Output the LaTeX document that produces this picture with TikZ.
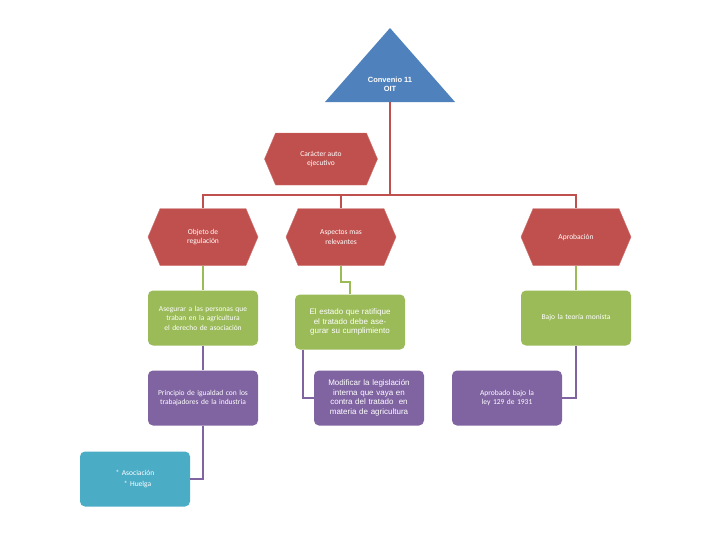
\documentclass[tikz,border=0pt]{standalone}
\usepackage{fontspec}
\setmainfont{Carlito}
\newfontfamily\arialf{Liberation Sans}
\usetikzlibrary{shapes.symbols}
\definecolor{rojo}{HTML}{C0504D}
\definecolor{verde}{HTML}{9BBB59}
\definecolor{morado}{HTML}{8064A2}
\definecolor{celeste}{HTML}{4BACC6}
\definecolor{azul}{HTML}{4F81BD}
\begin{document}
\begin{tikzpicture}[x=1pt,y=-1pt,
  hexa/.style={signal, signal to=west and east, signal pointer angle=134, fill=rojo, draw=rojo!80!white, text=white,
    minimum width=110pt, minimum height=57pt, inner sep=1pt, align=center, font=\fontsize{7.5}{9.5}\selectfont},
  caja/.style={rounded corners=5pt, text=white, minimum width=110pt, minimum height=55pt, align=center,
    text width=106pt, inner sep=1pt, font=\fontsize{7.5}{9.5}\selectfont},
  lrojo/.style={draw=rojo, line width=1.2pt},
  lverde/.style={draw=verde, line width=1.2pt},
  lmorado/.style={draw=morado, line width=1.2pt}]
\useasboundingbox (0,0) rectangle (728,546);
% cabecera
\fill[azul] (390,28) -- (455,102) -- (325,102) -- cycle;
\node[text=white, font=\bfseries\fontsize{7.5}{9}\selectfont\arialf, align=center] (oit) at (390,84) {Convenio 11\\OIT};
\coordinate (oitb) at (390,102);
\node[hexa, minimum width=113pt, minimum height=52pt] (auto) at (321,159) {Carácter auto\\ejecutivo};
% nivel rojo
\node[hexa] (obj) at (203,237) {Objeto de\\regulación};
\node[hexa] (asp) at (341,237) {Aspectos mas\\relevantes};
\node[hexa] (apr) at (576,237) {Aprobación};
% nivel verde
\node[caja, fill=verde] (g1) at (203,318) {Asegurar a las personas que traban en la agricultura el derecho de asociación};
\node[caja, fill=verde, font=\fontsize{8}{9.5}\selectfont\arialf, text width=100pt] (g2) at (350,322) {El estado que ratifique el tratado debe asegurar su cumplimiento};
\node[caja, fill=verde] (g3) at (576,318) {Bajo la teoría monista};
% nivel morado
\node[caja, fill=morado] (m1) at (203,398) {Principio de igualdad con los trabajadores de la industria};
\node[caja, fill=morado, font=\fontsize{8}{9.5}\selectfont\arialf, text width=100pt] (m2) at (369,398) {Modificar la legislación interna que vaya en contra del tratado\ \ en materia de agricultura};
\node[caja, fill=morado] (m3) at (507,398) {Aprobado bajo la ley 129 de 1931};
\node[caja, fill=celeste] (c1) at (135,479) {* Asociación\\[2pt]\ \ * Huelga};
% conectores
\draw[lrojo] (oitb) -- (390,195) -| (obj.north);
\draw[lrojo] (390,195) -| (asp.north);
\draw[lrojo] (390,195) -| (apr.north);
\draw[lverde] (obj.south) -- (g1.north);
\draw[lverde] (asp.south) -- (341,282) -| (g2.north);
\draw[lverde] (apr.south) -- (g3.north);
\draw[lmorado] (g1.south) -- (m1.north);
\draw[lmorado] (303,350) |- (m2.west);
\draw[lmorado] (g3.south) |- (m3.east);
\draw[lmorado] (m1.south) |- (c1.east);
\end{tikzpicture}
\end{document}
